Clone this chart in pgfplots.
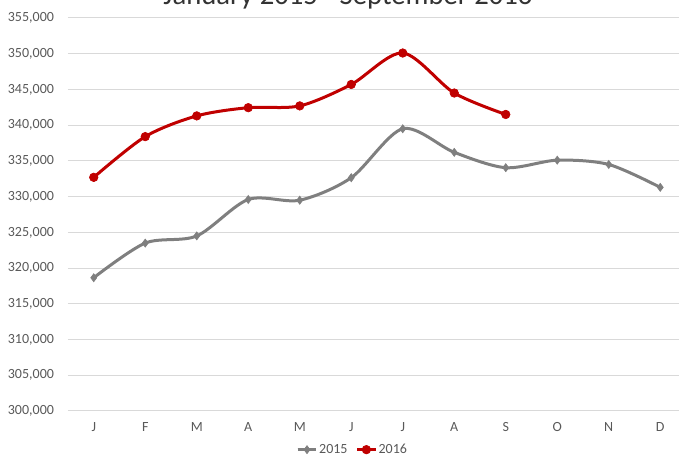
\documentclass[border=0pt]{standalone}
\usepackage{pgfplots}
\pgfplotsset{compat=1.18}
\usepackage{fontspec}
\setmainfont{Carlito}
\definecolor{gline}{HTML}{7F7F7F}
\definecolor{rline}{HTML}{C00000}
\definecolor{gridc}{HTML}{D9D9D9}
\definecolor{txt}{HTML}{595959}
\begin{document}
\begin{tikzpicture}
\begin{axis}[
  scale only axis,
  width=463.5pt, height=294.75pt,
  xmin=-0.5, xmax=11.5,
  ymin=300000, ymax=355000,
  ytick={300000,305000,...,355000},
  xtick={0,...,11},
  xticklabels={J,F,M,A,M,J,J,A,S,O,N,D},
  scaled y ticks=false,
  /pgf/number format/.cd, fixed, 1000 sep={,}, assume math mode=true,
  /pgfplots/.cd,
  ymajorgrids=true, xmajorgrids=false,
  major grid style={draw=gridc, line width=0.75pt},
  axis line style={draw=none},
  major tick length=0pt,
  tick label style={font=\fontsize{10.5}{12}\selectfont, text=txt},
  yticklabel style={xshift=-7pt},
  xticklabel style={yshift=-5pt},
  title={January 2015 - September 2016},
  title style={at={(0.453,1)}, anchor=base, yshift=4pt, font=\fontsize{21.5}{24}\selectfont, text=black!80},
  legend style={at={(0.461,0)}, anchor=center, yshift=-29pt, draw=none, fill=none,
    legend columns=2, font=\fontsize{10.5}{12}\selectfont, text=txt,
    inner sep=1pt,
    /tikz/every even column/.append style={column sep=4pt},
    /tikz/every odd column/.append style={column sep=-1pt}},
  legend image code/.code={\draw[#1] (0pt,0pt) -- (7pt,0pt) -- (14pt,0pt);
    \path[#1, mark repeat=2, mark phase=2] plot coordinates {(0pt,0pt) (7pt,0pt) (14pt,0pt)};},
  clip=false,
]
\addplot[gline, line width=2.25pt, smooth, tension=0.5, mark=diamond*, mark size=3pt, mark options={solid, line width=0.5pt}]
  coordinates {(0,318650) (1,323500) (2,324500) (3,329600) (4,329500) (5,332650) (6,339500) (7,336200) (8,334050) (9,335100) (10,334500) (11,331300)};
\addlegendentry{2015}
\addplot[rline, line width=2.25pt, smooth, tension=0.5, mark=*, mark size=3.2pt, mark options={solid, line width=0.5pt}]
  coordinates {(0,332700) (1,338400) (2,341300) (3,342450) (4,342700) (5,345700) (6,350100) (7,344500) (8,341500)};
\addlegendentry{2016}
\end{axis}
\pgfresetboundingbox
\useasboundingbox (-51pt,-33.75pt) rectangle (458.25pt,308.25pt);
\end{tikzpicture}
\end{document}
